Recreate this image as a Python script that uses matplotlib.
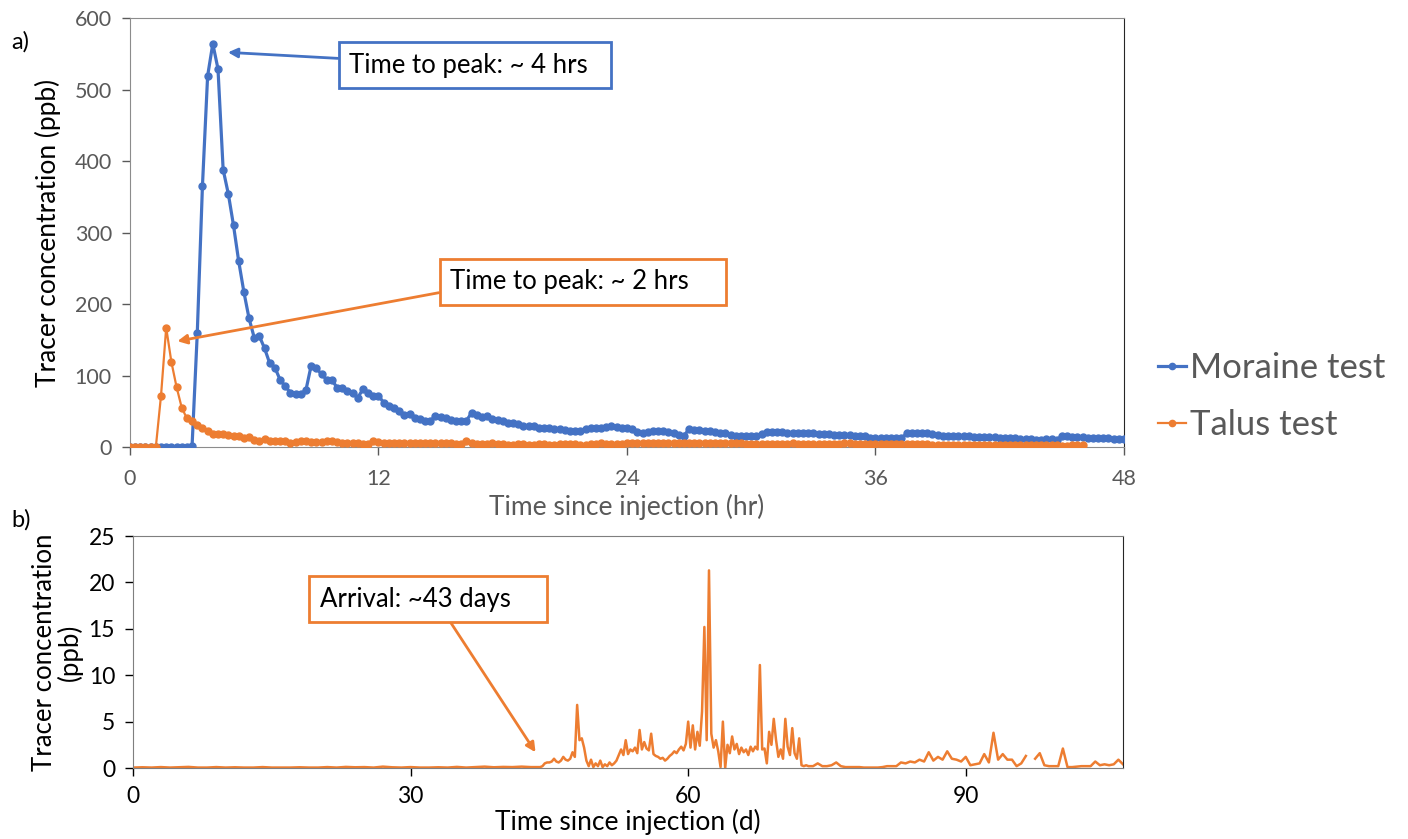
import numpy as np
import matplotlib
matplotlib.use('Agg')
import matplotlib.pyplot as plt

plt.rcParams['font.family'] = ['Lato', 'DejaVu Sans']

# panel a) 15 min samples (ppb), first sample at t = 0 hr
moraine_ppb = [0, 0, 0, 0, 0, 0, 0, 0, 0, 0, 0, 0, 2,
               159, 365, 519, 564, 529, 388, 354, 310, 260, 217, 180, 153,
               155, 138, 117, 111, 94, 85, 76, 74, 74, 80, 114, 110,
               102, 94, 94, 83, 82, 78, 76, 69, 81, 75, 72, 72,
               62, 58, 55, 50, 45, 46, 41, 39, 37, 36, 44, 42,
               41, 38, 37, 37, 37, 48, 45, 42, 43, 39, 38,
               36, 34, 33, 32, 30, 30, 29, 27, 27, 26, 25, 25,
               24, 23, 22, 22, 25, 26, 27, 27, 28, 30, 28, 27,
               26, 25, 21, 20, 21, 22, 22, 23, 21, 20, 17, 16,
               25, 24, 24, 23, 22, 21, 20, 19, 17, 16, 16, 16,
               16, 16, 18, 21, 21, 21, 21, 20, 20, 20, 19, 19,
               19, 18, 18, 18, 17, 17, 17, 17, 16, 16, 16, 13,
               13, 12, 12, 12, 12, 12, 19, 19, 19, 19, 19, 18,
               17, 16, 16, 15, 15, 15, 15, 14, 14, 14, 14, 14,
               13, 13, 12, 12, 11, 11, 11, 10, 10, 11, 11, 10,
               15, 15, 14, 14, 14, 13, 13, 12, 12, 12, 11, 11, 11]

talus_ppb = [0, 0, 0, 0, 0, 0,
             72, 167, 119, 84, 55, 40, 37, 31, 26, 22, 18, 18,
             18, 17, 16, 15, 13, 14, 10, 9, 11, 9, 9, 9,
             8, 6, 7, 9, 8, 7, 7, 7, 8, 8, 7, 6,
             6, 6, 5, 4, 4, 8, 7, 6, 6, 5, 5, 5,
             5, 6, 5, 5, 5, 5, 6, 5, 5, 4, 4, 8,
             5, 4, 4, 4, 5, 4, 4, 3, 3,
             4, 4, 3, 3, 4, 4, 3, 3, 4, 4, 4, 4, 3, 3, 4, 4, 5, 4, 4, 4, 4,
             5, 5, 5, 5, 6, 5, 6, 6, 6, 6, 5, 5, 5, 6, 6, 5, 5, 5, 5, 5, 5, 5, 5, 4,
             4, 4, 4, 4, 4, 4, 4, 4, 5, 4, 4, 4, 4, 4, 4, 4, 4, 4, 5, 5, 4, 4, 4, 4,
             4, 4, 4, 4, 4, 4, 4, 4, 4, 4, 4, 3, 3, 3, 3, 3, 3, 3, 3, 3, 3, 3, 3, 3,
             3, 3, 3, 3, 3, 3, 3, 3, 3, 3, 3, 3, 2, 2, 3, 3, 3]

# panel b) talus long-term record (ppb)
# days 0-44, one value per day
early_ppb = [0.05, 0.08, 0.05, 0.1, 0.05, 0.08, 0.12, 0.05, 0.05, 0.1,
             0.05, 0.08, 0.05, 0.05, 0.1, 0.05, 0.05, 0.05, 0.08, 0.05,
             0.05, 0.1, 0.05, 0.12, 0.08, 0.1, 0.05, 0.15, 0.08, 0.05,
             0.1, 0.05, 0.05, 0.08, 0.05, 0.12, 0.05, 0.1, 0.15, 0.08,
             0.12, 0.1, 0.15, 0.1, 0.1]
# days 44.25-73, every 6 hours
active_ppb = [0.2, 0.5, 0.6, 0.6, 0.7, 1.0, 0.7, 0.6, 0.8, 1.2, 0.9, 0.8,
              1.0, 1.7, 1.2, 6.8, 3.0, 3.2, 2.2, 0.8, 0.2, 0.9, 0.1, 0.5,
              0.2, 0.8, 0.1, 0.4, 0.2, 0.6, 0.3, 0.5, 0.8, 1.4, 2.0, 1.4,
              3.0, 1.5, 2.0, 1.8, 2.2, 1.6, 4.1, 2.0, 2.8, 2.1, 1.9, 3.7,
              1.5, 1.3, 1.2, 1.0, 1.1, 0.8, 1.0, 1.3, 1.5, 1.8, 1.6, 2.0,
              2.3, 1.9, 2.6, 5.0, 2.2, 4.6, 2.0, 3.9, 2.4, 6.1, 15.2, 3.0,
              21.3, 3.7, 2.2, 3.0, 1.8, 0.1, 5.0, 0.0, 2.5, 1.6, 3.4, 2.0,
              2.6, 1.5, 2.2, 1.7, 2.0, 1.4, 2.3, 1.8, 2.3, 2.0, 11.1, 2.0,
              2.1, 0.5, 3.9, 2.5, 5.3, 3.0, 1.2, 2.0, 1.0, 5.3, 2.3, 1.4,
              4.3, 1.6, 1.0, 3.2, 0.3, 0.2, 0.3, 0.2]
# days 73.5-107, every 12 hours (nan = gap in record)
late_ppb = [0.2, 0.5, 0.2, 0.2, 0.3, 0.6, 0.2, 0.1, 0.1, 0.1, 0.1, 0.05,
            0.05, 0.05, 0.05, 0.1, 0.2, 0.2, 0.2, 0.6, 0.5, 0.7, 0.6, 0.9,
            0.7, 1.7, 0.8, 1.2, 0.9, 1.8, 1.0, 0.9, 0.7, 1.2, 0.3, 0.4,
            0.5, 1.5, 0.6, 3.8, 0.9, 1.5, 0.9, 0.9, 0.2, 0.5, 1.3, np.nan,
            1.0, 1.6, 0.3, 0.2, 0.2, 0.2, 2.1, 0.1, 0.1, 0.15, 0.2, 0.2,
            0.2, 0.7, 0.3, 0.4, 0.3, 0.4, 0.9, 0.4]

blue = '#4472C4'
orange = '#ED7D31'
grey = '#595959'

t_moraine = np.arange(len(moraine_ppb)) * 0.25
t_talus = np.arange(len(talus_ppb)) * 0.25
days = np.concatenate([np.arange(len(early_ppb)) * 1.0,
                       44.25 + np.arange(len(active_ppb)) * 0.25,
                       73.5 + np.arange(len(late_ppb)) * 0.5])
conc = np.concatenate([early_ppb, active_ppb, late_ppb])

fig = plt.figure(figsize=(14.08, 8.39), dpi=100)
ax1 = fig.add_axes([0.0923, 0.4672, 0.7060, 0.5113])
ax2 = fig.add_axes([0.0945, 0.0846, 0.7031, 0.2765])

# ---- panel a
ax1.plot(t_moraine, moraine_ppb, color=blue, lw=2.3, marker='o', ms=5,
         label='Moraine test', zorder=3)
ax1.plot(t_talus, talus_ppb, color=orange, lw=1.6, marker='o', ms=5,
         label='Talus test', zorder=4)
ax1.set_xlim(0, 48)
ax1.set_ylim(0, 600)
ax1.set_xticks([0, 12, 24, 36, 48])
ax1.set_yticks(range(0, 601, 100))
ax1.tick_params(labelsize=15.5, colors=grey, length=6, width=1, pad=7)
ax1.tick_params(axis='x', pad=10)
ax1.set_xlabel('Time since injection (hr)', fontsize=19, color=grey, labelpad=3)
ax1.set_ylabel('Tracer concentration (ppb)', fontsize=19, color='black', labelpad=10)
for s in ['left', 'bottom', 'top']:
    ax1.spines[s].set_color('#8c8c8c')
ax1.spines['right'].set_color('#262626')

box = dict(boxstyle='square,pad=0.4', fc='white', lw=2)
ax1.annotate('Time to peak: ~ 4 hrs  ', xy=(4.73, 552), xytext=(10.58, 534),
             fontsize=18.5, va='center', ha='left',
             bbox=dict(box, ec=blue),
             arrowprops=dict(arrowstyle='-|>', color=blue, lw=2,
                             mutation_scale=14, shrinkA=0, shrinkB=0,
                             relpos=(0, 0.75)))
ax1.annotate('Time to peak: ~ 2 hrs    ', xy=(2.29, 148), xytext=(15.46, 231),
             fontsize=18.5, va='center', ha='left',
             bbox=dict(box, ec=orange),
             arrowprops=dict(arrowstyle='-|>', color=orange, lw=2,
                             mutation_scale=14, shrinkA=0, shrinkB=0,
                             relpos=(0, 0.15)))

fig.legend(loc='center left', bbox_to_anchor=(0.8203, 0.5274), frameon=False,
           fontsize=25, labelcolor=grey, handlelength=0.8, handletextpad=0.12,
           labelspacing=0.7, markerscale=0.9, borderpad=0.1, borderaxespad=0)

# ---- panel b
ax2.plot(days, conc, color=orange, lw=1.8)
ax2.set_xlim(0, 107)
ax2.set_ylim(0, 25)
ax2.set_xticks([0, 30, 60, 90])
ax2.set_yticks(range(0, 26, 5))
ax2.tick_params(labelsize=16.5, colors='black', length=6, width=1, pad=7)
ax2.set_xlabel('Time since injection (d)', fontsize=19, color='black', labelpad=1)
ax2.set_ylabel('Tracer concentration\n(ppb)', fontsize=18.5, color='black',
               labelpad=4, linespacing=1.0)
for s in ['left', 'bottom', 'top']:
    ax2.spines[s].set_color('#7f7f7f')
ax2.spines['right'].set_color('#262626')

ax2.annotate('Arrival: ~43 days    ', xy=(43.5, 1.7), xytext=(20.17, 18.2),
             fontsize=18.5, va='center', ha='left',
             bbox=dict(box, ec=orange),
             arrowprops=dict(arrowstyle='-|>', color=orange, lw=2,
                             mutation_scale=14, shrinkA=0, shrinkB=0,
                             relpos=(0.57, 0)))

fig.text(0.008, 0.942, 'a)', fontsize=17)
fig.text(0.008, 0.372, 'b)', fontsize=17)

fig.savefig('out.png', dpi=100, facecolor='white')
